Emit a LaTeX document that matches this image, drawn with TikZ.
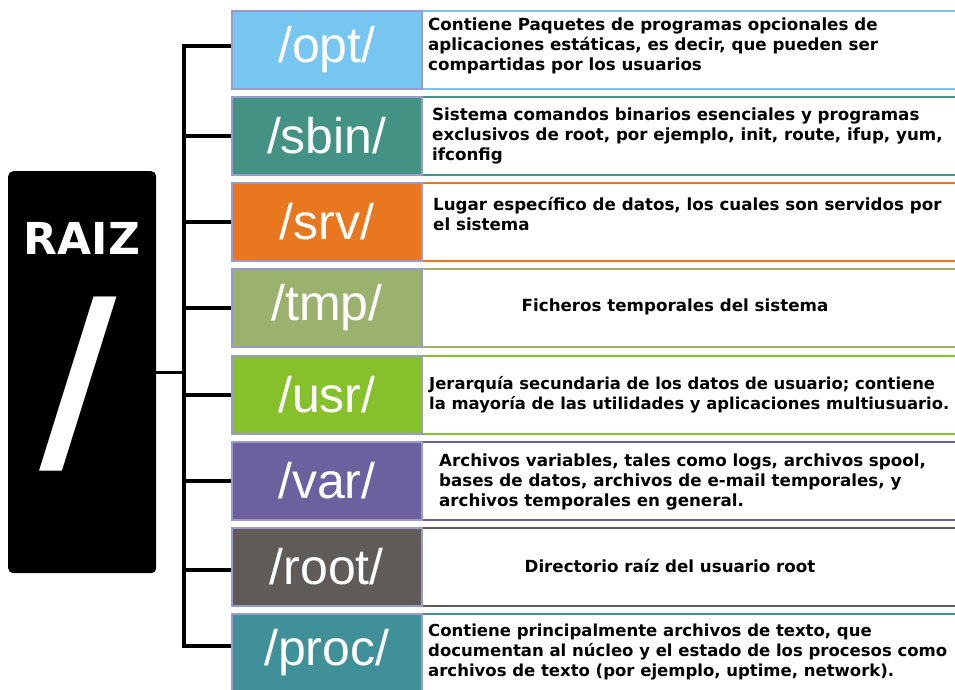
\documentclass[tikz,border=0pt]{standalone}
\usepackage{fontspec}
\setmainfont{DejaVu Sans}
\newfontfamily\labfont{Liberation Sans}
\definecolor{optc}{HTML}{77C6F1}
\definecolor{sbinc}{HTML}{439283}
\definecolor{srvc}{HTML}{E8771F}
\definecolor{tmpc}{HTML}{9AB26D}
\definecolor{usrc}{HTML}{86C12B}
\definecolor{varc}{HTML}{6C619E}
\definecolor{rootc}{HTML}{5F5B59}
\definecolor{procc}{HTML}{3F9099}
\definecolor{bordc}{HTML}{9A9ACB}
\tikzset{
  dirbox/.style={draw=bordc, fill=#1, line width=1.6pt, minimum width=190pt,
    minimum height=78pt, inner sep=0pt, anchor=north west, text=white,
    font=\labfont\fontsize{50}{50}\selectfont},
  descbox/.style={draw=#1, fill=white, line width=1.6pt, minimum width=545pt,
    minimum height=78pt, inner sep=0pt, anchor=north west},
  desctext/.style={font=\bfseries\fontsize{16.7}{20}\selectfont, align=left,
    anchor=west, inner sep=0pt},
  ctext/.style={font=\bfseries\fontsize{16.7}{20}\selectfont, anchor=center, inner sep=0pt},
  conn/.style={draw=black, line width=4pt, line join=miter},
}
\begin{document}
\begin{tikzpicture}[x=1pt,y=-1pt]
\useasboundingbox (0,0) rectangle (955,689);
\clip (0,0) rectangle (955,689);
\fill[white] (0,0) rectangle (955,689);

% root box
\node[fill=black, rounded corners=5pt, minimum width=148pt, minimum height=402pt,
      inner sep=0pt, anchor=north west] (raiz) at (8,171) {};
\node[text=white, font=\bfseries\fontsize{44}{44}\selectfont, inner sep=0pt] (raiztxt) at (82,238) {RAIZ};
\node[text=white, font=\bfseries\fontsize{212}{212}\selectfont, inner sep=0pt] (slash) at (78,384) {/};

% directory boxes
\foreach \n/\c/\t/\lab in {opt/optc/10/{/opt/}, sbin/sbinc/96/{/sbin/}, srv/srvc/182/{/srv/},
  tmp/tmpc/268/{/tmp/}, usr/usrc/355/{/usr/}, var/varc/441/{/var/},
  root/rootc/527/{/root/}, proc/procc/613/{/proc/}}{
  \node[descbox=\c] (\n d) at (421,\t) {};
  \node[dirbox=\c] (\n) at (231,\t) {\lab};
}

% connectors
\coordinate (tx) at (184,0);
\draw[conn] ([yshift=4pt]opt.west) -| ([yshift=7pt]proc.west -| tx) -- ([yshift=7pt]proc.west);
\foreach \n in {sbin,srv,tmp,usr,var}{
  \draw[conn] (\n.west -| tx) -- (\n.west);
}
\draw[conn] ([yshift=-3pt]root.west -| tx) -- ([yshift=-3pt]root.west);
\draw[draw=black, line width=3pt] (raiz.east) -- (raiz.east -| tx);

% descriptions
\node[desctext] (t1) at (428,46) {Contiene Paquetes de programas opcionales de\\aplicaciones estáticas, es decir, que pueden ser\\compartidas por los usuarios};
\node[desctext] (t2) at (432,136) {Sistema comandos binarios esenciales y programas\\exclusivos de root, por ejemplo, init, route, ifup, yum,\\ifconfig};
\node[desctext] (t3) at (433,214) {Lugar específico de datos, los cuales son servidos por\\el sistema};
\node[ctext] (t4) at (675,307) {Ficheros temporales del sistema};
\node[desctext, font=\bfseries\fontsize{16.4}{20}\selectfont] (t5) at (429,394.5) {Jerarquía secundaria de los datos de usuario; contiene\\la mayoría de las utilidades y aplicaciones multiusuario.};
\node[desctext] (t6) at (439,481.5) {Archivos variables, tales como logs, archivos spool,\\bases de datos, archivos de e-mail temporales, y\\archivos temporales en general.};
\node[ctext] (t7) at (670,566) {Directorio raíz del usuario root};
\node[desctext, font=\bfseries\fontsize{16.5}{20}\selectfont] (t8) at (428,652) {Contiene principalmente archivos de texto, que\\documentan al núcleo y el estado de los procesos como\\archivos de texto (por ejemplo, uptime, network).};
\end{tikzpicture}
\end{document}
